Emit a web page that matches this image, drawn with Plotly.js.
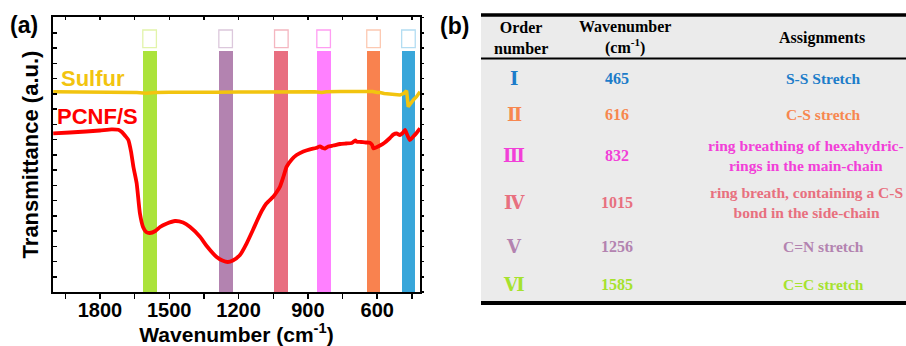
<!DOCTYPE html>
<html>
<head>
<meta charset="utf-8">
<script src="https://cdn.plot.ly/plotly-3.0.1.min.js"></script>
<style>html,body{margin:0;padding:0;background:#fff;}#chart{width:906px;height:346px;}</style>
</head>
<body>
<div id="chart"></div>
<script>
// ---------- DATA ----------
const pcnfWavenumber = [2002,1930,1860,1800,1750,1720,1705,1690,1677,1665,1655,1641,1627,1613,1600,1584,1560,1540,1510,1475,1440,1411,1367,1338,1295,1270,1247,1225,1194,1165,1140,1122,1100,1079,1050,1035,1021,1005,992,970,949,920,891,865,848,835,826,812,790,761,735,710,695,689,670,650,632,622,617,605,588,570,545,530,516,502,490,480,470,459,446,430,415];
const pcnfTransmittance = [158.7,159.5,160.5,161.5,162.7,162.2,160,156,152,140,125,108.7,78.7,64.7,60,59,61,65,68.5,71,69.5,65.3,55.3,46,35,31.5,30,31.5,37,48.7,61,70.3,81,88.7,95.3,100,105.3,116,125.3,132.5,137,140.5,142.7,144,145.5,144,143.5,145.5,146.5,148,148.5,149,151.5,150.3,150,149.5,149.3,147,143.7,144.5,146.5,149,154,157.5,158.5,157,159,162,157,152,155,159,163.7];

const sulfurWavenumber = [2002,1900,1800,1700,1640,1600,1560,1500,1400,1300,1200,1100,1000,950,870,840,820,760,700,650,620,600,588,570,545,520,502,484,473,466,455,444,430,415];
const sulfurTransmittance = [200.3,200,200.5,200.2,199.5,198.7,199.5,199.8,199.5,199.8,200,200,200.3,200.5,200.3,199.6,200.2,200.5,200.8,200.5,200.5,199.5,199.5,198.5,198,197.5,197,198.7,201.3,185.3,189,192,195.3,200.3];

const orderNumbers = ['Ⅰ','Ⅱ','Ⅲ','Ⅳ','Ⅴ','Ⅵ'];
const peakWavenumbers = [465, 616, 832, 1015, 1256, 1585];
const assignments = [
  'S-S Stretch',
  'C-S stretch',
  'ring breathing of hexahydric-<br>rings in the main-chain',
  'ring breath, containing a C-S<br>bond in the side-chain',
  'C=N stretch',
  'C=C stretch'
];
const xTickValues = [1800, 1500, 1200, 900, 600];
const seriesNames = ['Sulfur', 'PCNF/S'];

// ---------- STYLE / LAYOUT ----------
const W = 906, H = 346;
const px = x => x / W;
const py = y => 1 - y / H;
const bandColors  = ['#38a6da', '#f9824f', '#ff80ff', '#e86e80', '#b383b0', '#abe33b'];
const boxColors   = ['#b3ddf2', '#fcc9b2', '#ff9df2', '#f4b6c0', '#dcc8dc', '#e2f4aa'];
const textColors  = ['#1c7cc9', '#f7874f', '#f23fd8', '#e8707f', '#b383b0', '#a6e22e'];
const bandTop = 241, boxBase = 244.3, boxHeight = 17.7, bandWidth = 60;
const sans = 'Liberation Sans, Arial, sans-serif';
const serif = 'Liberation Serif, Times New Roman, serif';

const traces = [
  { type: 'bar', x: peakWavenumbers, y: peakWavenumbers.map(() => bandTop), base: 0,
    width: bandWidth, marker: { color: bandColors, line: { width: 0 } },
    xaxis: 'x', yaxis: 'y', showlegend: false, hoverinfo: 'skip' },
  { type: 'bar', x: peakWavenumbers, y: peakWavenumbers.map(() => boxHeight), base: boxBase,
    width: bandWidth * 0.98, marker: { color: 'rgba(0,0,0,0)', line: { color: boxColors, width: 1.3 } },
    xaxis: 'x', yaxis: 'y', showlegend: false, hoverinfo: 'skip' },
  { type: 'scatter', mode: 'lines', name: seriesNames[0], x: sulfurWavenumber, y: sulfurTransmittance,
    line: { color: '#f2c40f', width: 3.5 }, xaxis: 'x', yaxis: 'y', showlegend: false },
  { type: 'scatter', mode: 'lines', name: seriesNames[1], x: pcnfWavenumber, y: pcnfTransmittance,
    line: { color: '#ff0000', width: 3.8, shape: 'spline', smoothing: 0.5 }, xaxis: 'x', yaxis: 'y', showlegend: false }
];

const xr = [2003, 415], yr = [0, 275];
const xdom = [px(53), px(420)], ydom = [py(292), py(17)];

const annotations = [];
annotations.push({ xref: 'paper', yref: 'paper', x: px(8), y: py(25), xanchor: 'left', yanchor: 'middle',
  text: '(a)', showarrow: false, font: { family: sans, size: 23, color: '#000', weight: 'bold' } });
annotations.push({ xref: 'paper', yref: 'paper', x: px(438), y: py(26), xanchor: 'left', yanchor: 'middle',
  text: '(b)', showarrow: false, font: { family: sans, size: 23, color: '#000', weight: 'bold' } });
annotations.push({ xref: 'paper', yref: 'paper', x: px(59), y: py(78), xanchor: 'left', yanchor: 'middle',
  text: seriesNames[0], showarrow: false, font: { family: sans, size: 22, color: '#f2c40f', weight: 'bold' } });
annotations.push({ xref: 'paper', yref: 'paper', x: px(55), y: py(116.5), xanchor: 'left', yanchor: 'middle',
  text: seriesNames[1], showarrow: false, font: { family: sans, size: 22, color: '#ff0000', weight: 'bold' } });

// table header (two-line cells drawn as one text each)
const hdrFont = { family: serif, size: 16, color: '#000', weight: 'bold' };
const hdr = [
  ['Order<br>number', 521, 37.5],
  ['Wavenumber<br>(cm<sup>-1</sup>)', 625, 37.5],
  ['Assignments', 822, 38]
];
hdr.forEach(h => annotations.push({ xref: 'paper', yref: 'paper', x: px(h[1]), y: py(h[2]),
  xanchor: 'center', yanchor: 'middle', text: h[0], showarrow: false, font: hdrFont }));

const rowY = [78, 114, 155, 202.5, 247, 284];
const colX = [514, 617];
orderNumbers.forEach((r, i) => {
  const c = textColors[i];
  annotations.push({ xref: 'paper', yref: 'paper', x: px(colX[0]), y: py(rowY[i]), xanchor: 'center', yanchor: 'middle',
    text: r, showarrow: false, font: { family: 'DejaVu Serif, serif', size: 18, color: c, weight: 'bold' } });
  annotations.push({ xref: 'paper', yref: 'paper', x: px(colX[1]), y: py(rowY[i]), xanchor: 'center', yanchor: 'middle',
    text: String(peakWavenumbers[i]), showarrow: false, font: { family: serif, size: 16, color: c, weight: 'bold' } });
  const multi = assignments[i].indexOf('<br>') >= 0;
  annotations.push({ xref: 'paper', yref: 'paper', x: px(multi ? 806 : 823), y: py(rowY[i]), xanchor: 'center', yanchor: 'middle',
    text: assignments[i], showarrow: false, font: { family: serif, size: 15.5, color: c, weight: 'bold' } });
});

const shapes = [
  { type: 'rect', xref: 'paper', yref: 'paper', x0: px(481), x1: px(906), y0: py(302), y1: py(16),
    fillcolor: '#ebebeb', line: { width: 0 }, layer: 'below' },
  { type: 'line', xref: 'paper', yref: 'paper', x0: px(481), x1: px(906), y0: py(15), y1: py(15), line: { color: '#000', width: 3.5 } },
  { type: 'line', xref: 'paper', yref: 'paper', x0: px(481), x1: px(906), y0: py(58.5), y1: py(58.5), line: { color: '#000', width: 2 } },
  { type: 'line', xref: 'paper', yref: 'paper', x0: px(481), x1: px(906), y0: py(303), y1: py(303), line: { color: '#000', width: 4 } }
];

const layout = {
  width: W, height: H,
  margin: { l: 0, r: 0, t: 0, b: 0 },
  paper_bgcolor: '#fff', plot_bgcolor: 'rgba(0,0,0,0)',
  showlegend: false, barmode: 'overlay', bargap: 0,
  xaxis: {
    domain: xdom, range: xr, anchor: 'y', showgrid: false, zeroline: false,
    showline: true, linecolor: '#000', linewidth: 2, mirror: true,
    tickmode: 'array', tickvals: xTickValues, ticktext: xTickValues.map(String),
    ticks: 'outside', ticklen: 5, tickwidth: 1.5, tickcolor: '#000',
    ticklabelstandoff: -6,
    minor: { ticks: 'outside', ticklen: 5, tickwidth: 1.5, tickcolor: '#000', dtick: 150, tick0: 0 },
    tickfont: { family: sans, size: 20, color: '#000', weight: 'bold' },
    title: { text: 'Wavenumber (cm<sup>-1</sup>)', standoff: 0,
      font: { family: sans, size: 21, color: '#000', weight: 'bold' } }
  },
  xaxis2: {
    domain: xdom, range: xr, overlaying: 'x', side: 'top', anchor: 'y',
    showgrid: false, zeroline: false, showline: false, showticklabels: false,
    tickmode: 'linear', tick0: 0, dtick: 150, ticks: 'inside', ticklen: 3, tickwidth: 1.5, tickcolor: '#000'
  },
  yaxis: {
    domain: ydom, range: yr, anchor: 'x', showgrid: false, zeroline: false,
    showline: true, linecolor: '#000', linewidth: 2, mirror: true,
    showticklabels: false, tickmode: 'linear', tick0: 0, dtick: 15.25,
    ticks: 'inside', ticklen: 4, tickwidth: 1.5, tickcolor: '#000',
    title: { text: 'Transmittance (a.u.)', standoff: 6,
      font: { family: sans, size: 22, color: '#000', weight: 'bold' } }
  },
  yaxis2: {
    domain: ydom, range: yr, overlaying: 'y', side: 'right', anchor: 'x',
    showgrid: false, zeroline: false, showline: false, showticklabels: false,
    tickmode: 'linear', tick0: 0, dtick: 15.25, ticks: 'outside', ticklen: 3, tickwidth: 1.5, tickcolor: '#000'
  },
  annotations: annotations,
  shapes: shapes
};

// invisible trace so the secondary (mirror-tick) axes get drawn
traces.push({ type: 'scatter', x: [xr[0]], y: [yr[0]], xaxis: 'x2', yaxis: 'y2', mode: 'markers',
  marker: { opacity: 0 }, showlegend: false, hoverinfo: 'skip' });

Plotly.newPlot('chart', traces, layout, { displayModeBar: false, staticPlot: true });
</script>
</body>
</html>
